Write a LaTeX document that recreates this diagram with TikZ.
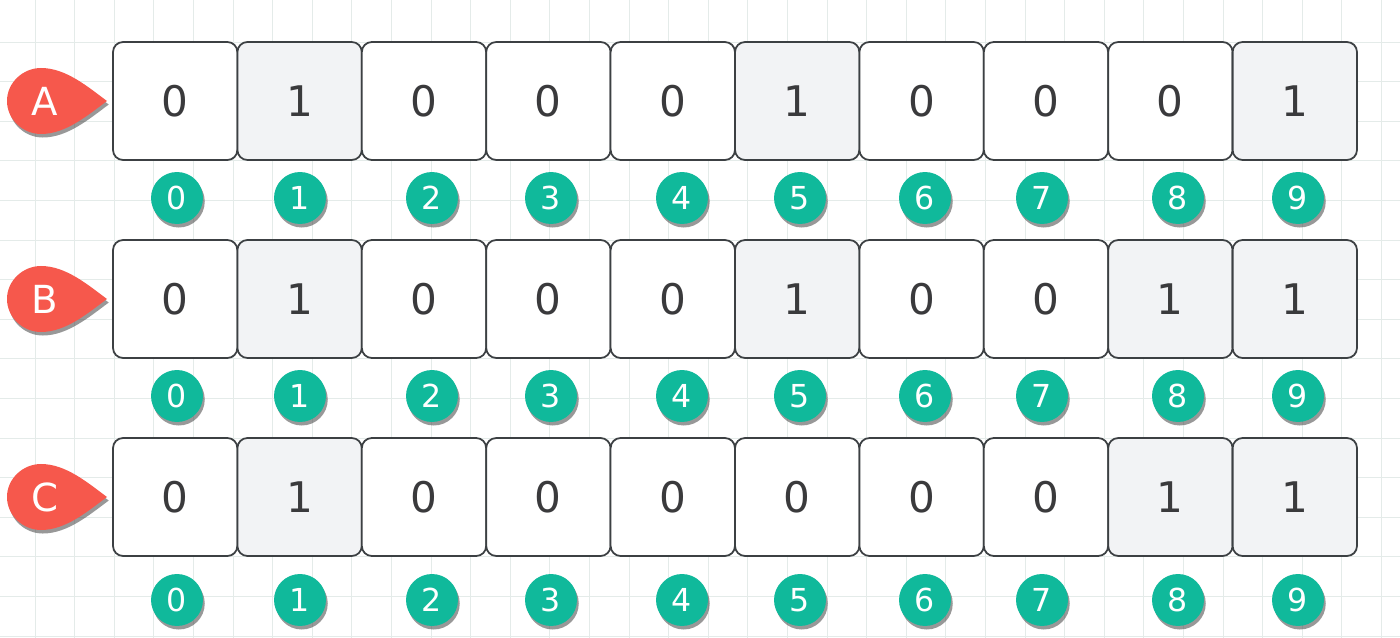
\documentclass[tikz,border=0pt]{standalone}
\usepackage{fontspec}
\setmainfont{DejaVu Sans}
\usetikzlibrary{shadows}
\definecolor{mygrid}{RGB}{228,235,233}
\definecolor{mycell}{RGB}{242,243,245}
\definecolor{myborder}{RGB}{60,64,67}
\definecolor{mytext}{RGB}{58,58,60}
\definecolor{myteal}{RGB}{16,185,155}
\definecolor{myred}{RGB}{246,88,76}
\tikzset{
  cell0/.style={rectangle, draw=myborder, fill=white,
    minimum width=2.488cm, minimum height=2.36cm, inner sep=0pt,
    rounded corners=0.2cm, line width=1pt, text=mytext,
    font=\fontsize{24}{28}\selectfont},
  cell1/.style={cell0, fill=mycell},
  badge/.style={circle, fill=myteal, text=white, minimum size=1.04cm,
    inner sep=0pt, font=\fontsize{18}{21}\selectfont,
    drop shadow={shadow xshift=1pt, shadow yshift=-2pt, fill=black!80, opacity=0.5}},
  droplabel/.style={text=white, inner sep=0pt, font=\fontsize{22}{26}\selectfont},
  drop/.style={fill=myred,
    drop shadow={shadow xshift=1pt, shadow yshift=-2pt, fill=black!80, opacity=0.5}},
  gridline/.style={draw=mygrid, line width=0.4pt}
}
\begin{document}
\begin{tikzpicture}[x=0.02cm, y=-0.02cm]
  \useasboundingbox (0,0) rectangle (1400,638);
  \fill[white] (0,0) rectangle (1400,638);
  % Background grid
  \foreach \k in {0,...,34} \draw[gridline] ({35+39.6*\k},0) -- ({35+39.6*\k},638);
  \foreach \k in {0,...,15} \draw[gridline] (0,{42+39.6*\k}) -- (1400,{42+39.6*\k});
  % Row markers
  \foreach \lbl/\dy in {A/101,B/299,C/497} {
    \fill[drop, shift={(0,\dy)}] (107,0) .. controls (88,-14) and (66,-33) .. (41,-33)
      .. controls (22.8,-33) and (7,-18.2) .. (7,0)
      .. controls (7,18.2) and (22.8,33) .. (41,33)
      .. controls (66,33) and (88,14) .. (107,0) -- cycle;
    \node[droplabel] (mark\lbl) at (45,\dy) {\lbl};
  }
  % Row A
  \foreach \v [count=\i from 0] in {0,1,0,0,0,1,0,0,0,1}
    \node[cell\v] (a\i) at ({175.2+124.4*\i},101) {\v};
  % Row B
  \foreach \v [count=\i from 0] in {0,1,0,0,0,1,0,0,1,1}
    \node[cell\v] (b\i) at ({175.2+124.4*\i},299) {\v};
  % Row C
  \foreach \v [count=\i from 0] in {0,1,0,0,0,0,0,0,1,1}
    \node[cell\v] (c\i) at ({175.2+124.4*\i},497) {\v};
  % Index badges
  \foreach \r/\by in {a/198,b/396,c/600}
    \foreach \bx [count=\i from 0] in {177,300,432,551,682,800,925,1042,1178,1298}
      \node[badge] (idx\r\i) at (\bx,\by) {\i};
\end{tikzpicture}
\end{document}
